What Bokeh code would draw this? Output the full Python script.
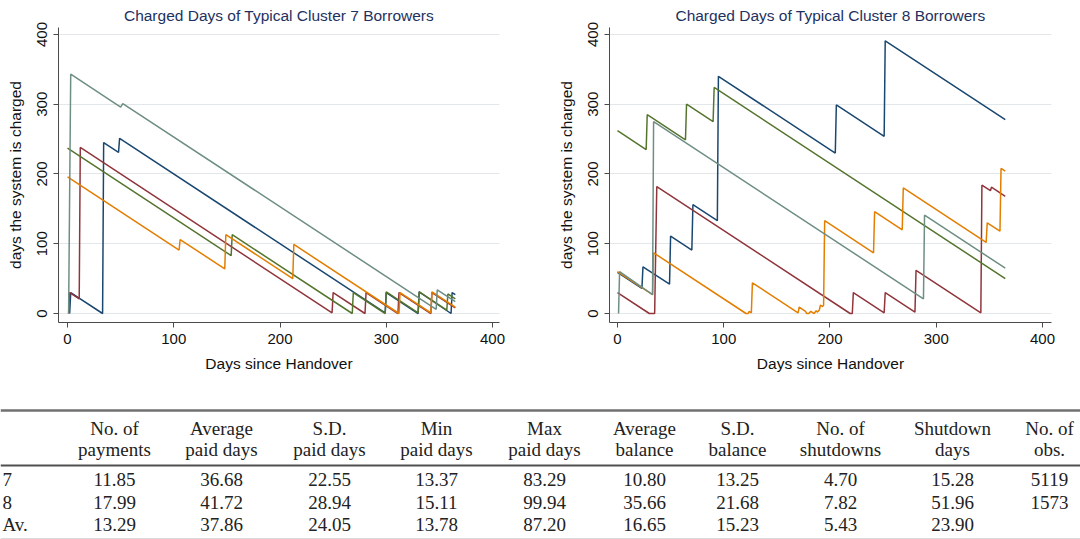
from bokeh.plotting import figure
from bokeh.models import Range1d, FixedTicker
from bokeh.layouts import column, row
from bokeh.embed import file_html
from bokeh.resources import INLINE
from bokeh.core.properties import value

# ---------------- data: cluster 7 (vertices of the charge-balance paths) ----------------
c7_navy_x = [2, 3, 33, 34, 48, 49, 299, 300, 330, 331, 361, 362, 365]
c7_navy_y = [0, 30, 0, 245, 231, 251, 1, 30, 0, 31, 0, 30, 27]
c7_maroon_x = [1, 2, 11, 12, 249, 250, 280, 281, 311, 312, 342, 343, 365]
c7_maroon_y = [0, 30, 21, 238, 1, 30, 0, 30, 0, 30, 0, 30, 8]
c7_green_x = [0, 154, 155, 268, 269, 299, 300, 330, 331, 357, 358, 365]
c7_green_y = [237, 83, 113, 0, 30, 0, 31, 1, 31, 5, 28, 21]
c7_orange_x = [0, 105, 106, 148, 149, 212, 213, 312, 313, 342, 343, 365]
c7_orange_y = [196, 91, 106, 64, 113, 50, 99, 0, 30, 1, 31, 9]
c7_teal_x = [1, 3, 50, 52, 347, 348, 365]
c7_teal_y = [0, 343, 296, 301, 6, 34, 17]

# ---------------- data: cluster 8 ----------------
c8_navy_x = [0, 23, 24, 49, 50, 70, 71, 94, 95, 205, 206, 251, 252, 365]
c8_navy_y = [59, 36, 67, 42, 111, 91, 156, 133, 340, 230, 299, 254, 391, 278]
c8_maroon_x = [0, 30, 35, 37, 219, 221, 222, 251, 252, 280, 281, 342, 343, 351, 352, 365]
c8_maroon_y = [30, 0, 0, 182, 0, 0, 30, 1, 30, 2, 62, 1, 184, 176, 181, 168]
c8_green_x = [0, 27, 28, 64, 65, 90, 91, 365]
c8_green_y = [262, 235, 285, 249, 300, 275, 324, 50]
c8_orange_x = [0, 33, 34, 121, 123, 124, 126, 127, 170, 171, 177, 178, 180, 182,
               184, 185, 187, 188, 190, 191, 193, 194, 195, 241, 242, 268, 269,
               347, 348, 360, 361, 365]
c8_orange_y = [60, 27, 87, 0, 0, 3, 1, 44, 1, 9, 3, 0, 0, 3,
               1, 0, 4, 2, 5, 12, 10, 12, 133, 87, 146, 120, 180,
               102, 130, 118, 208, 204]
c8_teal_x = [1, 2, 33, 34, 288, 289, 365]
c8_teal_y = [0, 60, 27, 275, 21, 141, 65]

axis_ticks = [0, 100, 200, 300, 400]

# ---------------- data: table ----------------
head_1 = ["No. of", "Average", "S.D.", "Min", "Max", "Average", "S.D.", "No. of", "Shutdown", "No. of"]
head_2 = ["payments", "paid days", "paid days", "paid days", "paid days", "balance", "balance",
          "shutdowns", "days", "obs."]
row_labels = ["7", "8", "Av."]
row_7 = ["11.85", "36.68", "22.55", "13.37", "83.29", "10.80", "13.25", "4.70", "15.28", "5119"]
row_8 = ["17.99", "41.72", "28.94", "15.11", "99.94", "35.66", "21.68", "7.82", "51.96", "1573"]
row_av = ["13.29", "37.86", "24.05", "13.78", "87.20", "16.65", "15.23", "5.43", "23.90", ""]

# ---------------- styling ----------------
COLORS = ["#1a476f", "#90353b", "#55752f", "#e37e00", "#6e8e84"]
SANS = "Liberation Sans"
SERIF = "Liberation Serif"


def make_plot(title, series, xr, bl, br):
    p = figure(width=540, height=380, x_range=Range1d(*xr), y_range=Range1d(-12.9, 410.0),
               output_backend="svg", toolbar_location=None,
               min_border_left=bl, min_border_right=br, min_border_top=27, min_border_bottom=58)
    p.title.text = title
    p.title.align = "center"
    p.title.text_font = SANS
    p.title.text_font_size = "15.5px"
    p.title.text_font_style = "normal"
    p.title.text_color = "#1e3160"
    p.title.standoff = 8
    p.outline_line_color = None
    p.background_fill_color = "white"
    p.border_fill_color = "white"
    for (xs, ys), c in zip(series, COLORS):
        p.line(xs, ys, line_color=c, line_width=1.5)
    for ax in (p.xaxis[0], p.yaxis[0]):
        ax.ticker = FixedTicker(ticks=axis_ticks)
        ax.axis_line_color = "#4a4a4a"
        ax.major_tick_line_color = "#4a4a4a"
        ax.major_tick_out = 5
        ax.major_tick_in = 0
        ax.minor_tick_out = 0
        ax.minor_tick_in = 0
        ax.major_label_text_font = SANS
        ax.major_label_text_font_size = "15px"
        ax.major_label_text_color = "#111111"
        ax.axis_label_text_font = SANS
        ax.axis_label_text_font_size = "15.5px"
        ax.axis_label_text_font_style = "normal"
        ax.axis_label_text_color = "#111111"
    p.xaxis.axis_label = "Days since Handover"
    p.xaxis.major_label_standoff = 6
    p.xaxis.axis_label_standoff = 8
    p.yaxis.axis_label = "days the system is charged"
    p.yaxis.major_label_orientation = "vertical"
    p.yaxis.major_label_standoff = 6
    p.yaxis.axis_label_standoff = 11
    p.xgrid.visible = False
    p.ygrid.ticker = FixedTicker(ticks=axis_ticks)
    p.ygrid.grid_line_color = "#e3e7e9"
    return p


p1 = make_plot("Charged Days of Typical Cluster 7 Borrowers",
               [(c7_navy_x, c7_navy_y), (c7_maroon_x, c7_maroon_y), (c7_green_x, c7_green_y),
                (c7_orange_x, c7_orange_y), (c7_teal_x, c7_teal_y)],
               (-8.5, 406.6), 58, 41)
p2 = make_plot("Charged Days of Typical Cluster 8 Borrowers",
               [(c8_navy_x, c8_navy_y), (c8_maroon_x, c8_maroon_y), (c8_green_x, c8_green_y),
                (c8_orange_x, c8_orange_y), (c8_teal_x, c8_teal_y)],
               (-7.5, 408.5), 69, 29)

# ---------------- table ----------------
pt = figure(width=1080, height=159, x_range=Range1d(0, 1080), y_range=Range1d(539, 380),
            output_backend="svg", toolbar_location=None, min_border=0)
pt.axis.visible = False
pt.grid.visible = False
pt.outline_line_color = None

col_x = [114, 221, 329, 436, 544, 644, 737, 840, 952, 1049]
y_h1, y_h2 = 428, 449
y_rows = [479, 502, 524]
label_x = 2

pt.segment(x0=[0], y0=[410], x1=[1080], y1=[410], line_color="#707070", line_width=2.5)
pt.segment(x0=[0], y0=[465], x1=[1080], y1=[465], line_color="#505050", line_width=2)
pt.segment(x0=[0], y0=[538], x1=[1080], y1=[538], line_color="#d9d9d9", line_width=1)

tstyle = dict(text_font=value(SERIF), text_font_size="19px", text_color="#222222",
              text_baseline="middle")
pt.text(x=col_x, y=[y_h1] * len(col_x), text=head_1, text_align="center", **tstyle)
pt.text(x=col_x, y=[y_h2] * len(col_x), text=head_2, text_align="center", **tstyle)
pt.text(x=[label_x] * 3, y=y_rows, text=row_labels, text_align="left", **tstyle)
for yy, vals in zip(y_rows, [row_7, row_8, row_av]):
    pt.text(x=col_x, y=[yy] * len(col_x), text=vals, text_align="center", **tstyle)

layout = column(row(p1, p2), pt)
open("out.html", "w").write(file_html(layout, INLINE))
